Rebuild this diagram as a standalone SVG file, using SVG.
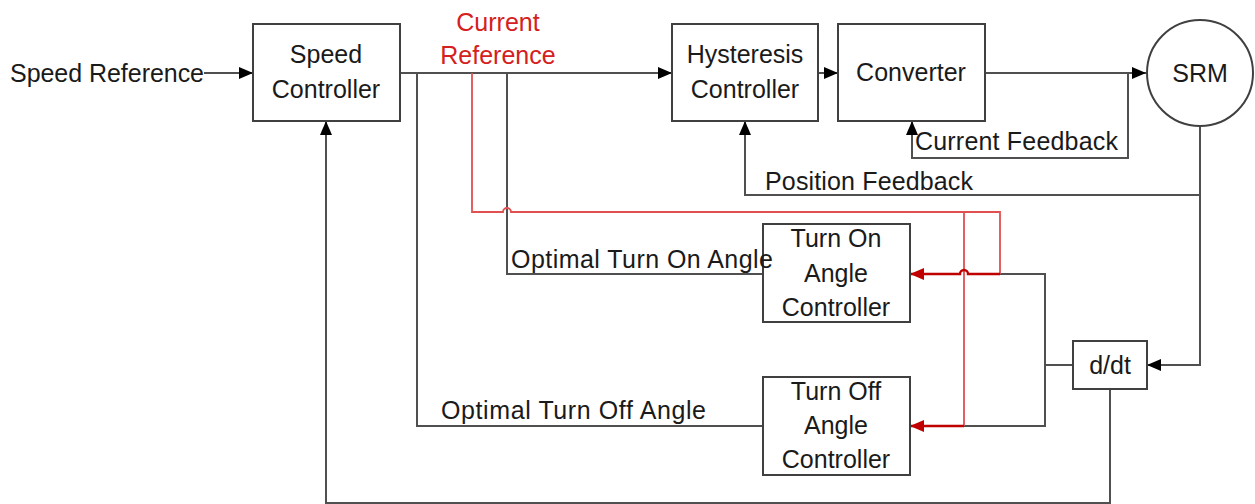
<svg xmlns="http://www.w3.org/2000/svg" width="1255" height="504" viewBox="0 0 1255 504">
<defs>
<style>
.box{fill:#fff;stroke:#404040;stroke-width:2}
.t{font-family:"Liberation Sans",Arial,sans-serif;font-size:25px;fill:#1a1a1a}
.c{text-anchor:middle}
.red{fill:#d42020}
.w{fill:none;stroke:#505050;stroke-width:2}
.r{fill:none;stroke:#e05050;stroke-width:1.8}
.ra{fill:none;stroke:#c00000;stroke-width:2.4}
</style>
<marker id="ab" markerUnits="userSpaceOnUse" markerWidth="14" markerHeight="12" refX="14" refY="6" orient="auto"><path d="M0,0 L14,6 L0,12 z" fill="#000"/></marker>
<marker id="ar" markerUnits="userSpaceOnUse" markerWidth="14" markerHeight="12" refX="14" refY="6" orient="auto"><path d="M0,0 L14,6 L0,12 z" fill="#c00000"/></marker>
</defs>
<rect width="1255" height="504" fill="#fff"/>
<g id="connectors">
<path class="w" d="M204,73 H253" marker-end="url(#ab)"/>
<path class="w" d="M400,73 H672" marker-end="url(#ab)"/>
<path class="w" d="M818,73 H838" marker-end="url(#ab)"/>
<path class="w" d="M985,73 H1146" marker-end="url(#ab)"/>
<path class="w" d="M1128,73 V158 H912 V121" marker-end="url(#ab)"/>
<path class="w" d="M1200,126 V195 H745 V121" marker-end="url(#ab)"/>
<path class="w" d="M1200,195 V365 H1147" marker-end="url(#ab)"/>
<path class="w" d="M417,73 V426 H763"/>
<path class="w" d="M507,73 V274 H763"/>
<path class="w" d="M1000,274 H1045 V426 H964"/>
<path class="w" d="M1073,365 H1045"/>
<path class="w" d="M1110,389 V503 H326 V121" marker-end="url(#ab)"/>
<path class="r" d="M472,73 V212 H503 A4,4 0 0 1 511,212 H1000 V274"/>
<path class="r" d="M964,212 V426"/>
<path class="ra" d="M1000,274 H968 A4,4 0 0 0 960,274 H910" marker-end="url(#ar)"/>
<path class="ra" d="M964,426 H910" marker-end="url(#ar)"/>
</g>
<g id="speed-reference"><text class="t" x="10" y="82" textLength="194">Speed Reference</text></g>
<g id="speed-controller">
<rect class="box" x="253" y="24" width="147" height="97"/>
<text class="t c" x="326" y="63">Speed</text>
<text class="t c" x="326" y="98">Controller</text>
</g>
<g id="current-reference">
<text class="t c red" x="498" y="31">Current</text>
<text class="t c red" x="498" y="64">Reference</text>
</g>
<g id="hysteresis-controller">
<rect class="box" x="672" y="24" width="146" height="97"/>
<text class="t c" x="745" y="63">Hysteresis</text>
<text class="t c" x="745" y="98">Controller</text>
</g>
<g id="converter">
<rect class="box" x="838" y="24" width="147" height="97"/>
<text class="t c" x="911" y="81">Converter</text>
</g>
<g id="srm">
<circle cx="1200" cy="73" r="53" fill="#fff" stroke="#404040" stroke-width="2"/>
<text class="t c" x="1200" y="82">SRM</text>
</g>
<g id="current-feedback"><text class="t" x="915" y="150" textLength="203">Current Feedback</text></g>
<g id="position-feedback"><text class="t" x="765" y="190" textLength="208">Position Feedback</text></g>
<g id="turn-on-controller">
<rect class="box" x="763" y="224" width="147" height="98"/>
<text class="t c" x="836" y="247">Turn On</text>
<text class="t c" x="836" y="282">Angle</text>
<text class="t c" x="836" y="316">Controller</text>
</g>
<g id="turn-off-controller">
<rect class="box" x="763" y="377" width="147" height="98"/>
<text class="t c" x="836" y="400">Turn Off</text>
<text class="t c" x="836" y="434">Angle</text>
<text class="t c" x="836" y="468">Controller</text>
</g>
<g id="ddt">
<rect class="box" x="1073" y="341" width="74" height="48"/>
<text class="t c" x="1110" y="374">d/dt</text>
</g>
<g id="optimal-on"><text class="t" x="511" y="268" textLength="262">Optimal Turn On Angle</text></g>
<g id="optimal-off"><text class="t" x="441" y="419" textLength="265">Optimal Turn Off Angle</text></g>
</svg>
